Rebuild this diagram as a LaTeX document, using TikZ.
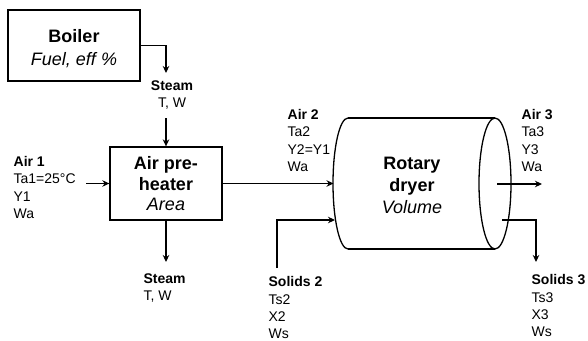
\documentclass[tikz,border=0pt]{standalone}
\usepackage{fontspec}
\setmainfont{Liberation Sans}
\usetikzlibrary{arrows.meta}
\begin{document}
\begin{tikzpicture}[x=1pt,y=-1pt, line width=1.3pt,
  arr/.style={-{Stealth[length=7pt,width=6.5pt]}},
  lbl/.style={font=\fontsize{14}{17.2}\selectfont, align=left, inner sep=0pt, anchor=north west},
  unitbox/.style={draw, inner sep=0pt},
  boxtxt/.style={align=center, inner sep=0pt}]
\useasboundingbox (0,0) rectangle (588,340);
% Boiler
\node[unitbox, minimum width=132pt, minimum height=71pt] (boiler) at (74,45.5) {};
\node[boxtxt, font=\fontsize{18}{23}\selectfont] (boilertxt) at (74,48.5) {\textbf{Boiler}\\\textit{Fuel, eff \%}};
% Air pre-heater
\node[unitbox, minimum width=112pt, minimum height=73pt] (ph) at (166,183.5) {};
\node[boxtxt, font=\fontsize{18}{20.5}\selectfont] (phtxt) at (166,184) {\textbf{Air pre-}\\\textbf{heater}\\\textit{Area}};
% Rotary dryer (cylinder)
\draw (348,118) -- (495,118) (348,249) -- (495,249);
\draw (348,118) arc[start angle=-90, end angle=-270, x radius=15, y radius=65.5];
\draw (495,183.5) ellipse[x radius=16, y radius=65.5];
\node[boxtxt, font=\fontsize{18}{22}\selectfont] (dryer) at (412,185) {\textbf{Rotary}\\\textbf{dryer}\\\textit{Volume}};
\coordinate (dryerA) at (333.5,183.5);
\coordinate (dryerS) at (335,220);
\coordinate (dryerAo) at (497,184);
\coordinate (dryerSo) at (502,220);
% labels
\node[lbl, align=center, anchor=north] (steamin) at (172,80) {\textbf{Steam}\\T, W};
\node[lbl, anchor=north west] (steamout) at (143,273) {\textbf{Steam}\\T, W};
\node[lbl] (air1) at (13,156) {\textbf{Air 1}\\Ta1=25°C\\Y1\\Wa};
\node[lbl] (air2) at (287,109) {\textbf{Air 2}\\Ta2\\Y2=Y1\\Wa};
\node[lbl] (air3) at (521,109) {\textbf{Air 3}\\Ta3\\Y3\\Wa};
\node[lbl] (sol2) at (268,276) {\textbf{Solids 2}\\Ts2\\X2\\Ws};
\node[lbl] (sol3) at (531,274) {\textbf{Solids 3}\\Ts3\\X3\\Ws};
% connector ends
\coordinate (s1end) at (166,73);
\coordinate (s1start) at (166,118);
\coordinate (s2end) at (166,262);
\coordinate (a1start) at (86,183.5);
\coordinate (a3end) at (542,184);
\coordinate (sol2start) at (277,268);
\coordinate (sol3end) at (536,262);
% connectors
\draw[arr] (boiler.east) -| (s1end);
\draw[arr] (s1start) -- (ph.north);
\draw[arr] (ph.south) -- (s2end);
\draw[arr] (a1start) -- (ph.west);
\draw[arr] (ph.east) -- (dryerA);
\draw[arr] (sol2start) |- (dryerS);
\draw[arr] (dryerAo) -- (a3end);
\draw[arr] (dryerSo) -| (sol3end);
\end{tikzpicture}
\end{document}
